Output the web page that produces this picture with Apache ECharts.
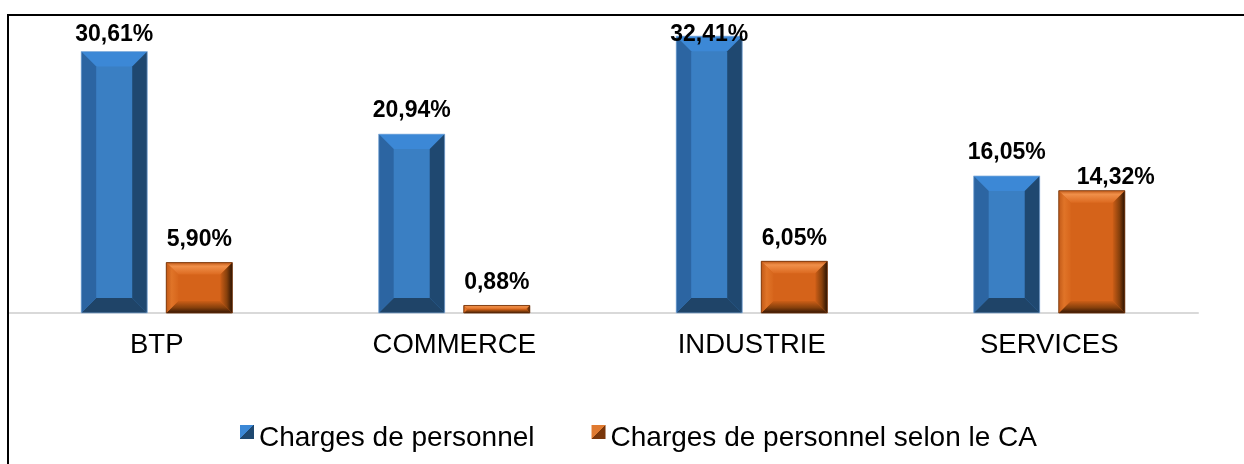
<!DOCTYPE html>
<html>
<head>
<meta charset="utf-8">
<script src="https://cdn.jsdelivr.net/npm/echarts@6/dist/echarts.min.js"></script>
<style>
  html, body { margin: 0; padding: 0; background: #fff; }
  #chart { width: 1244px; height: 464px; }
</style>
</head>
<body>
<div id="chart"></div>
<script>
// Sectors and the two ratios shown for each one (in %)
const categories = ['BTP', 'COMMERCE', 'INDUSTRIE', 'SERVICES'];
const chargesPersonnel = [30.61, 20.94, 32.41, 16.05];
const chargesSelonCA = [5.90, 0.88, 6.05, 14.32];
const seriesNames = ['Charges de personnel', 'Charges de personnel selon le CA'];

const FONT = '"Liberation Sans", Arial, Helvetica, sans-serif';
const G = echarts.graphic;

// Bevelled faces for each series
const blueFaces = {
  bevel: 15,
  center: '#3a7fc3',
  top: '#3c88d6',
  left: '#2c65a2',
  right: '#1f4870',
  bottom: '#1f4468',
  stroke: 'rgba(150,185,225,0.7)'
};
const orangeFaces = {
  bevel: 12,
  center: '#d5631a',
  top: new G.LinearGradient(0, 0, 0, 1, [
    { offset: 0, color: '#c25a18' }, { offset: 0.3, color: '#f0904a' }, { offset: 1, color: '#dc6a20' }]),
  left: new G.LinearGradient(0, 0, 1, 0, [
    { offset: 0, color: '#c25a18' }, { offset: 0.45, color: '#e07428' }, { offset: 1, color: '#d7661c' }]),
  right: new G.LinearGradient(0, 0, 1, 0, [
    { offset: 0, color: '#cc5e17' }, { offset: 0.55, color: '#86400c' }, { offset: 1, color: '#2a1202' }]),
  bottom: new G.LinearGradient(0, 0, 0, 1, [
    { offset: 0, color: '#cc5e17' }, { offset: 0.55, color: '#86400c' }, { offset: 1, color: '#351604' }]),
  stroke: 'rgba(110,50,10,0.8)'
};

// Label adjustments where two labels would crowd each other
const labelNudge = { 1: { SERVICES: [24, 10] } };

function fmt(v) {
  return v.toFixed(2).replace('.', ',') + '%';
}

function makeRenderer(seriesIndex, faces) {
  return function (params, api) {
    const idx = api.value(0);
    const val = api.value(1);
    const base = api.coord([idx, 0]);
    const top = api.coord([idx, val]);
    const band = api.size([1, 0])[0];
    const barW = band * 0.222;
    const gap = band * 0.064;
    const cx = base[0] + (seriesIndex === 0 ? -1 : 1) * (barW + gap) / 2;
    const x0 = cx - barW / 2, x1 = cx + barW / 2;
    const y0 = top[1], y1 = base[1];
    const h = y1 - y0;
    const b = Math.min(faces.bevel, h / 2, barW / 2);

    const poly = (pts, fill) => ({ type: 'polygon', shape: { points: pts }, style: { fill: fill } });
    const children = [
      { type: 'rect', shape: { x: x0, y: y0, width: barW, height: h }, style: { fill: faces.center } },
      poly([[x0, y0], [x1, y0], [x1 - b, y0 + b], [x0 + b, y0 + b]], faces.top),
      poly([[x0, y1], [x1, y1], [x1 - b, y1 - b], [x0 + b, y1 - b]], faces.bottom),
      poly([[x0, y0], [x0 + b, y0 + b], [x0 + b, y1 - b], [x0, y1]], faces.left),
      poly([[x1, y0], [x1 - b, y0 + b], [x1 - b, y1 - b], [x1, y1]], faces.right),
      { type: 'rect', shape: { x: x0, y: y0, width: barW, height: h },
        style: { fill: null, stroke: faces.stroke, lineWidth: 1 } }
    ];

    // value label above the bar, kept inside the plot area
    const nudge = (labelNudge[seriesIndex] || {})[categories[idx]] || [0, 0];
    const ly = Math.max(y0 - 23, 35) + nudge[1];
    children.push({
      type: 'text',
      x: cx + nudge[0],
      y: ly,
      style: {
        text: fmt(val),
        font: 'bold 23px ' + FONT,
        fill: '#000',
        align: 'center',
        verticalAlign: 'middle'
      }
    });
    return { type: 'group', children: children };
  };
}

const chart = echarts.init(document.getElementById('chart'), null, { renderer: 'canvas' });

const legendBlue = new G.LinearGradient(0, 0, 1, 1, [
  { offset: 0, color: '#3c88d6' }, { offset: 0.5, color: '#3c88d6' },
  { offset: 0.5, color: '#1f4870' }, { offset: 1, color: '#1f4870' }]);
const legendOrange = new G.LinearGradient(0, 0, 1, 1, [
  { offset: 0, color: '#e07a30' }, { offset: 0.5, color: '#e07a30' },
  { offset: 0.5, color: '#7a360a' }, { offset: 1, color: '#7a360a' }]);

chart.setOption({
  animation: false,
  backgroundColor: '#fff',
  grid: { left: 8, top: 14, width: 1190, bottom: 151, containLabel: false },
  xAxis: {
    type: 'category',
    data: categories,
    axisLine: { show: true, lineStyle: { color: '#d9d9d9', width: 2 } },
    axisTick: { show: false },
    axisLabel: { color: '#000', fontSize: 27.5, fontFamily: FONT, margin: 18 },
    splitLine: { show: false }
  },
  yAxis: {
    type: 'value',
    min: 0,
    max: 35,
    show: false
  },
  legend: {
    left: 235,
    top: 419,
    itemWidth: 14,
    itemHeight: 14,
    itemGap: 57,
    icon: 'rect',
    formatter: name => '{t|' + name + '}',
    textStyle: {
      color: '#000', fontSize: 28, fontFamily: FONT,
      rich: { t: { color: '#000', fontSize: 28, fontFamily: FONT, padding: [12, 0, 0, 0] } }
    },
    data: [
      { name: seriesNames[0], itemStyle: { color: legendBlue } },
      { name: seriesNames[1], itemStyle: { color: legendOrange } }
    ]
  },
  graphic: [{
    type: 'rect',
    shape: { x: 8, y: 15, width: 1260, height: 480 },
    style: { fill: null, stroke: '#000', lineWidth: 2 },
    z: 100
  }],
  series: [
    {
      name: seriesNames[0],
      type: 'custom',
      renderItem: makeRenderer(0, blueFaces),
      itemStyle: { color: '#3a7fc3' },
      encode: { x: 0, y: 1 },
      data: chargesPersonnel.map((v, i) => [i, v])
    },
    {
      name: seriesNames[1],
      type: 'custom',
      renderItem: makeRenderer(1, orangeFaces),
      itemStyle: { color: '#d5631a' },
      encode: { x: 0, y: 1 },
      data: chargesSelonCA.map((v, i) => [i, v])
    }
  ]
});
</script>
</body>
</html>
